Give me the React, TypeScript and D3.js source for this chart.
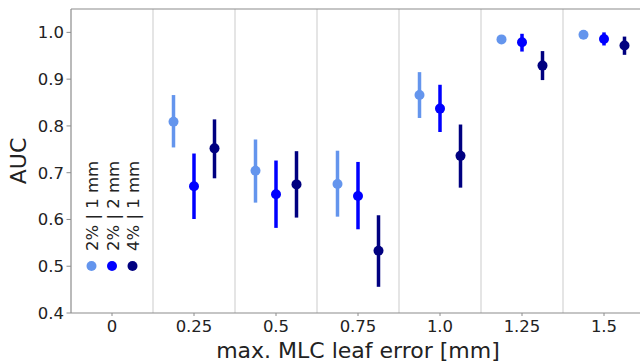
import { useEffect, useRef } from "react";
import * as d3 from "d3";

const categories = ["0", "0.25", "0.5", "0.75", "1.0", "1.25", "1.5"];
const seriesNames = ["2% | 1 mm", "2% | 2 mm", "4% | 1 mm"];
const seriesColors = ["#6495ED", "#0000FF", "#000080"];

// mean AUC per category (null = no data), one array per series
const meanA = [null, 0.809, 0.704, 0.676, 0.866, 0.985, 0.995];
const meanB = [null, 0.671, 0.654, 0.65, 0.837, 0.979, 0.986];
const meanC = [null, 0.752, 0.675, 0.533, 0.736, 0.929, 0.972];
// lower / upper error bounds
const lowA = [null, 0.754, 0.636, 0.606, 0.817, 0.982, 0.993];
const highA = [null, 0.866, 0.771, 0.747, 0.915, 0.988, 0.997];
const lowB = [null, 0.601, 0.582, 0.579, 0.787, 0.959, 0.972];
const highB = [null, 0.741, 0.726, 0.723, 0.888, 0.997, 1.0];
const lowC = [null, 0.688, 0.604, 0.456, 0.668, 0.898, 0.952];
const highC = [null, 0.814, 0.746, 0.609, 0.803, 0.96, 0.991];

const yTicks = [0.4, 0.5, 0.6, 0.7, 0.8, 0.9, 1.0];

const means = [meanA, meanB, meanC];
const lows = [lowA, lowB, lowC];
const highs = [highA, highB, highC];

export default function App() {
  const svgRef = useRef<SVGSVGElement>(null);
  const width = 640;
  const height = 363;

  useEffect(() => {
    const svg = d3.select(svgRef.current);
    svg.selectAll("*").remove();

    const left = 71;
    const top = 9;
    const bottom = 313;
    const step = 82;

    const x = d3.scaleLinear().domain([-0.5, 6.5]).range([left, left + 7 * step]);
    const y = d3.scaleLinear().domain([0.4, 1.05]).range([bottom, top]);
    const offset = 0.25;
    const font = "DejaVu Sans, sans-serif";

    // vertical separators
    svg
      .selectAll(".sep")
      .data(d3.range(6))
      .join("line")
      .attr("x1", (d) => x(d + 0.5))
      .attr("x2", (d) => x(d + 0.5))
      .attr("y1", top)
      .attr("y2", bottom)
      .style("stroke", "#dcdcdc")
      .style("stroke-width", 1.5);

    // error bars + dots
    means.forEach((m, s) => {
      const pts = m
        .map((v, i) => ({ i, v, lo: lows[s][i], hi: highs[s][i] }))
        .filter((d) => d.v !== null);
      const g = svg.append("g");
      g.selectAll("line")
        .data(pts)
        .join("line")
        .attr("x1", (d) => x(d.i + (s - 1) * offset))
        .attr("x2", (d) => x(d.i + (s - 1) * offset))
        .attr("y1", (d) => y(d.lo as number))
        .attr("y2", (d) => y(d.hi as number))
        .style("stroke", seriesColors[s])
        .style("stroke-width", 3.5);
      g.selectAll("circle")
        .data(pts)
        .join("circle")
        .attr("cx", (d) => x(d.i + (s - 1) * offset))
        .attr("cy", (d) => y(d.v as number))
        .attr("r", 5)
        .style("fill", seriesColors[s]);
    });

    // spines
    const spine = "#8c8c8c";
    svg.append("line").attr("x1", left).attr("x2", left).attr("y1", top).attr("y2", bottom)
      .style("stroke", spine).style("stroke-width", 1.2);
    svg.append("line").attr("x1", left).attr("x2", width).attr("y1", bottom).attr("y2", bottom)
      .style("stroke", spine).style("stroke-width", 1.2);
    svg.append("line").attr("x1", left).attr("x2", width).attr("y1", top).attr("y2", top)
      .style("stroke", spine).style("stroke-width", 1.2);

    // y ticks
    const yt = svg.append("g");
    yt.selectAll("line")
      .data(yTicks)
      .join("line")
      .attr("x1", left - 4.5)
      .attr("x2", left)
      .attr("y1", (d) => y(d))
      .attr("y2", (d) => y(d))
      .style("stroke", spine);
    yt.selectAll("text")
      .data(yTicks)
      .join("text")
      .attr("x", left - 7)
      .attr("y", (d) => y(d))
      .attr("dy", "0.36em")
      .attr("text-anchor", "end")
      .style("font-family", font)
      .style("font-size", "16.5px")
      .style("fill", "#222")
      .text((d) => d.toFixed(1));

    // x ticks
    const xt = svg.append("g");
    xt.selectAll("line")
      .data(categories)
      .join("line")
      .attr("x1", (_, i) => x(i))
      .attr("x2", (_, i) => x(i))
      .attr("y1", bottom)
      .attr("y2", bottom + 3)
      .style("stroke", spine);
    xt.selectAll("text")
      .data(categories)
      .join("text")
      .attr("x", (_, i) => x(i))
      .attr("y", 332)
      .attr("text-anchor", "middle")
      .style("font-family", font)
      .style("font-size", "16.5px")
      .style("fill", "#222")
      .text((d) => d);

    // axis titles
    svg.append("text")
      .attr("x", (left + left + 7 * step) / 2)
      .attr("y", 358)
      .attr("text-anchor", "middle")
      .style("font-family", font)
      .style("font-size", "22px")
      .style("fill", "#222")
      .text("max. MLC leaf error [mm]");
    svg.append("text")
      .attr("transform", `translate(26,${(top + bottom) / 2}) rotate(-90)`)
      .attr("text-anchor", "middle")
      .style("font-family", font)
      .style("font-size", "22px")
      .style("fill", "#222")
      .text("AUC");

    // legend: dot with vertical label
    const leg = svg.append("g");
    seriesNames.forEach((name, s) => {
      const lx = x((s - 1) * offset);
      leg.append("circle").attr("cx", lx).attr("cy", 266).attr("r", 5).style("fill", seriesColors[s]);
      leg.append("text")
        .attr("transform", `translate(${lx + 6.5},251) rotate(-90)`)
        .attr("text-anchor", "start")
        .style("font-family", font)
        .style("font-size", "16.5px")
        .style("fill", "#222")
        .text(name);
    });
  }, []);

  return (
    <svg
      ref={svgRef}
      width={width}
      height={height}
      style={{ position: "absolute", left: 0, top: 0, background: "white" }}
    ></svg>
  );
}
